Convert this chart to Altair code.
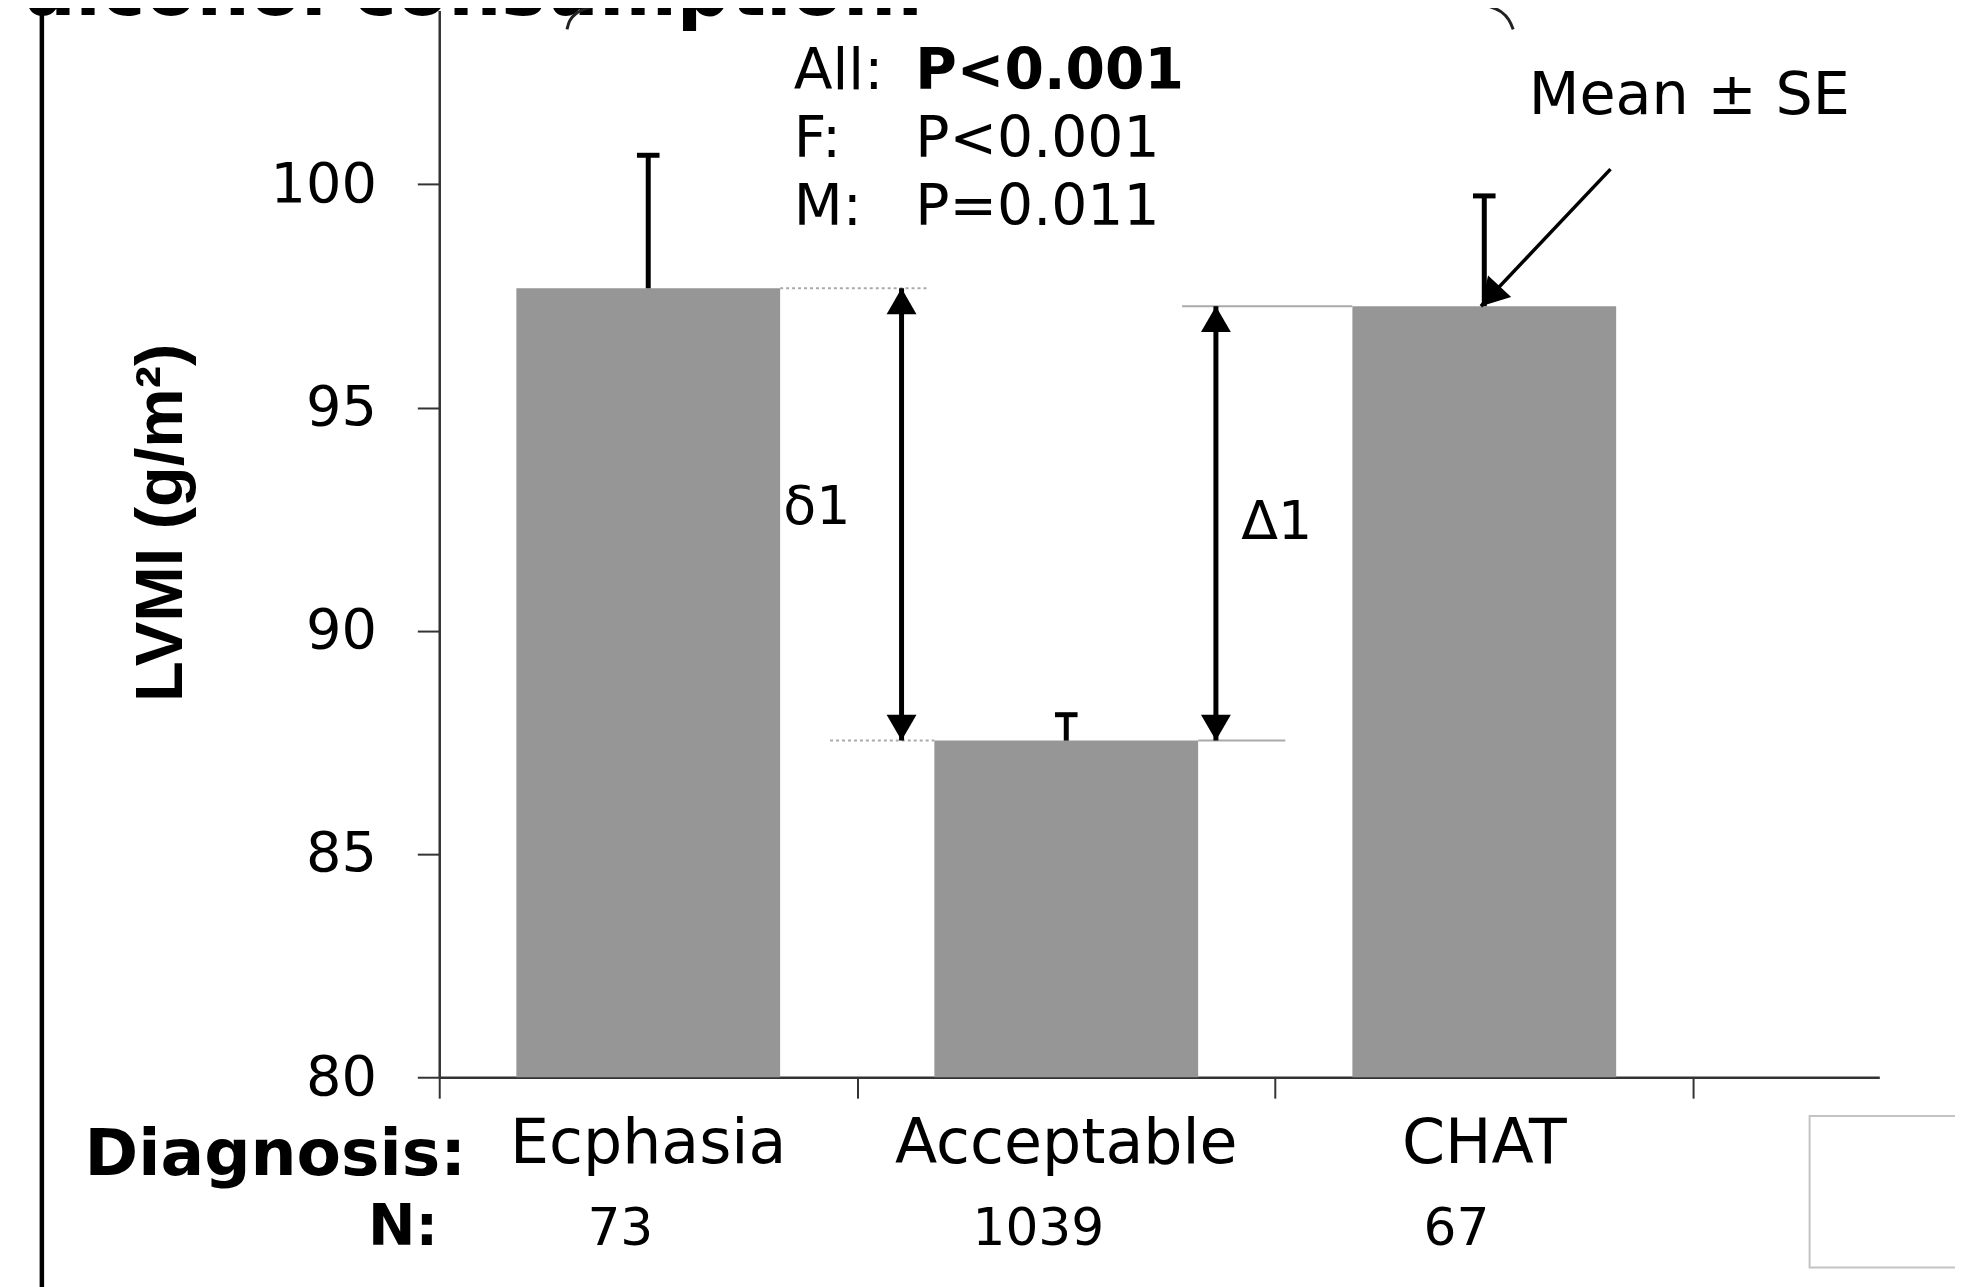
import altair as alt
import pandas as pd

# ---- data ----
categories = ["Ecphasia", "Acceptable", "CHAT"]
means = [97.67, 87.54, 97.27]
se = [2.98, 0.58, 2.47]
n_counts = ["73", "1039", "67"]
y_ticks = [80, 85, 90, 95, 100]
p_labels = ["All:", "F:", "M:"]
p_values = ["P<0.001", "P<0.001", "P=0.011"]

XMAX = 3.445
YMAX = 103.89
HALF = 0.3155
CAP = 0.027
FONT = "DejaVu Sans"

df = pd.DataFrame({"cat": categories, "mean": means, "se": se, "n": n_counts, "idx": list(range(3))})
df["xc"] = df["idx"] + 0.5
df["xl"] = df["xc"] - HALF
df["xr"] = df["xc"] + HALF
df["top"] = df["mean"] + df["se"]
df["cl"] = df["xc"] - CAP
df["cr"] = df["xc"] + CAP
df["base"] = 80.0

xs = alt.Scale(domain=[0, XMAX], nice=False, zero=False)
ys = alt.Scale(domain=[80, YMAX], nice=False, zero=False)

AX = alt.Axis(values=[0, 1, 2, 3], labels=False, tickSize=21, title=None,
              domainColor="#333333", tickColor="#333333", domainWidth=2.5, tickWidth=2, grid=False)
AY = alt.Axis(values=y_ticks, tickSize=22, labelPadding=41, labelFont=FONT, labelFontSize=56,
              labelColor="black", domainColor="#333333", tickColor="#333333", domainWidth=2.5,
              tickWidth=2, grid=False, title="LVMI (g/m²)", titleFont="Liberation Sans",
              titleFontWeight="bold", titleFontSize=67, titleColor="black", titleAngle=270,
              titleAlign="center", titleBaseline="alphabetic", titleX=-259, titleY=514)


def X(f):
    return alt.X(f, scale=xs, axis=AX)


def Y(f):
    return alt.Y(f, scale=ys, axis=AY)


one = pd.DataFrame({"a": [0]})

bars = alt.Chart(df).mark_bar(color="#969696").encode(
    x=X("xl:Q"), x2="xr:Q", y=Y("mean:Q"), y2="base:Q")

# reference lines at bar heights
ref = pd.DataFrame({
    "y": [means[0], means[1], means[1], means[2]],
    "x1": [0.5 + HALF, 0.935, 1.5 + HALF, 1.777],
    "x2": [1.173, 1.5 - HALF, 2.024, 2.5 - HALF],
    "kind": ["dot", "dot", "solid", "solid"],
})
ref_dot = alt.Chart(ref).transform_filter(alt.datum.kind == "dot").mark_rule(
    color="#aaaaaa", strokeWidth=2, strokeDash=[3, 3]).encode(x=X("x1:Q"), x2="x2:Q", y=Y("y:Q"))
ref_solid = alt.Chart(ref).transform_filter(alt.datum.kind == "solid").mark_rule(
    color="#aaaaaa", strokeWidth=2).encode(x=X("x1:Q"), x2="x2:Q", y=Y("y:Q"))

# error bars (upper only)
err = alt.Chart(df).mark_rule(color="black", strokeWidth=5).encode(
    x=X("xc:Q"), y=Y("mean:Q"), y2="top:Q")
caps = alt.Chart(df).mark_rule(color="black", strokeWidth=5).encode(
    x=X("cl:Q"), x2="cr:Q", y=Y("top:Q"))

# difference arrows
arr = pd.DataFrame({"x": [1.106, 1.858], "y1": [means[0], means[2]], "y2": [means[1], means[1]]})
shaft = alt.Chart(arr).mark_rule(color="black", strokeWidth=5).encode(
    x=X("x:Q"), y=Y("y1:Q"), y2="y2:Q")
head_up = alt.Chart(arr).mark_point(shape="triangle-up", filled=True, size=900, color="black",
                                    opacity=1, strokeWidth=0, yOffset=13).encode(
    x=X("x:Q"), y=Y("y1:Q"))
head_down = alt.Chart(arr).mark_point(shape="triangle-down", filled=True, size=900, color="black",
                                      opacity=1, strokeWidth=0, yOffset=-13).encode(
    x=X("x:Q"), y=Y("y2:Q"))

d1 = alt.Chart(arr.iloc[[0]]).mark_text(text="δ1", font=FONT, fontSize=54, color="black",
                                         align="center", baseline="alphabetic", dx=-85).encode(
    x=X("x:Q"), y=alt.value(515))
D1 = alt.Chart(arr.iloc[[1]]).mark_text(text="Δ1", font=FONT, fontSize=54, color="black",
                                         align="center", baseline="alphabetic", dx=61).encode(
    x=X("x:Q"), y=alt.value(531))

# Mean ± SE pointer
ptr = pd.DataFrame({"x": [2.802], "y": [100.34], "xe": [2.492], "ye": [means[2]]})
ptr_line = alt.Chart(ptr).mark_rule(color="black", strokeWidth=3.5).encode(
    x=X("x:Q"), x2="xe:Q", y=Y("y:Q"), y2="ye:Q")
ptr_head = alt.Chart(ptr).mark_point(shape="triangle-up", filled=True, size=1000, color="black",
                                     opacity=1, strokeWidth=0, angle=223, xOffset=9.4,
                                     yOffset=-10).encode(
    x=X("xe:Q"), y=Y("ye:Q"))
mean_se = alt.Chart(one).mark_text(text="Mean ± SE", font=FONT, fontSize=59, color="black",
                                   align="left", baseline="alphabetic").encode(
    x=alt.value(1094), y=alt.value(104))

# P-value block
p_layers = []
for i, (lab, val) in enumerate(zip(p_labels, p_values)):
    p_layers.append(alt.Chart(one).mark_text(text=lab, font=FONT, fontSize=57, color="black",
                                             align="left", baseline="alphabetic").encode(
        x=alt.value(356), y=alt.value(79 + 68 * i)))
    p_layers.append(alt.Chart(one).mark_text(text=val, font=FONT, fontSize=57, color="black",
                                             fontWeight="bold" if i == 0 else "normal",
                                             align="left", baseline="alphabetic").encode(
        x=alt.value(478), y=alt.value(79 + 68 * i)))

# category and N labels
cat_text = alt.Chart(df).mark_text(font=FONT, fontSize=62, color="black", align="center",
                                   baseline="alphabetic").encode(
    x=X("xc:Q"), y=alt.value(1157), text="cat:N")
n_text = alt.Chart(df).mark_text(font=FONT, fontSize=52, color="black", align="center",
                                 baseline="alphabetic", dx=-28).encode(
    x=X("xc:Q"), y=alt.value(1239), text="n:N")
diag = alt.Chart(one).mark_text(text="Diagnosis:", font=FONT, fontSize=65, fontWeight="bold",
                                color="black", align="right", baseline="alphabetic").encode(
    x=alt.value(27), y=alt.value(1169))
n_lab = alt.Chart(one).mark_text(text="N:", font=FONT, fontSize=57, fontWeight="bold",
                                 color="black", align="right", baseline="alphabetic").encode(
    x=alt.value(-1), y=alt.value(1239))

# cropped title fragment at top, frame pieces
title_frag = alt.Chart(one).mark_text(text="alcohol consumption.", font=FONT, fontSize=75,
                                      fontWeight="bold", color="black", align="left",
                                      baseline="alphabetic").encode(
    x=alt.value(-416), y=alt.value(4))
left_bar = alt.Chart(one).mark_rule(color="black", strokeWidth=4.5).encode(
    x=alt.value(-399), y=alt.value(-20), y2=alt.value(1300))
box = alt.Chart(one).mark_rect(fill="white", stroke="#c4c4c4", strokeWidth=2).encode(
    x=alt.value(1376), x2=alt.value(1700), y=alt.value(1110), y2=alt.value(1262))

bracket = pd.DataFrame({
    "x": [0.3057, 0.3105, 0.3248, 0.3462, 0.3796, 0.4153,
          2.4644, 2.512, 2.543, 2.5597, 2.5692],
    "y": [103.47, 103.67, 103.82, 103.93, 104.02, 104.07,
          104.07, 104.00, 103.87, 103.69, 103.47],
    "seg": ["a"] * 6 + ["b"] * 5,
    "o": list(range(11)),
})
bracket_line = alt.Chart(bracket).mark_line(color="#222222", strokeWidth=3, interpolate="basis").encode(
    x=X("x:Q"), y=Y("y:Q"), detail="seg:N", order="o:Q")

chart = alt.layer(
    bars, ref_dot, ref_solid, err, caps, shaft, head_up, head_down, d1, D1,
    ptr_line, ptr_head, mean_se, *p_layers, cat_text, n_text, diag, n_lab,
    title_frag, left_bar, box, bracket_line,
).properties(
    width=1446, height=1071,
    autosize=alt.AutoSizeParams(type="none"),
    padding={"left": 433, "top": 0, "right": 76, "bottom": 208},
    background="white",
).configure_view(stroke=None)

chart.save("out.html", embed_options={"renderer": "svg", "actions": False})
